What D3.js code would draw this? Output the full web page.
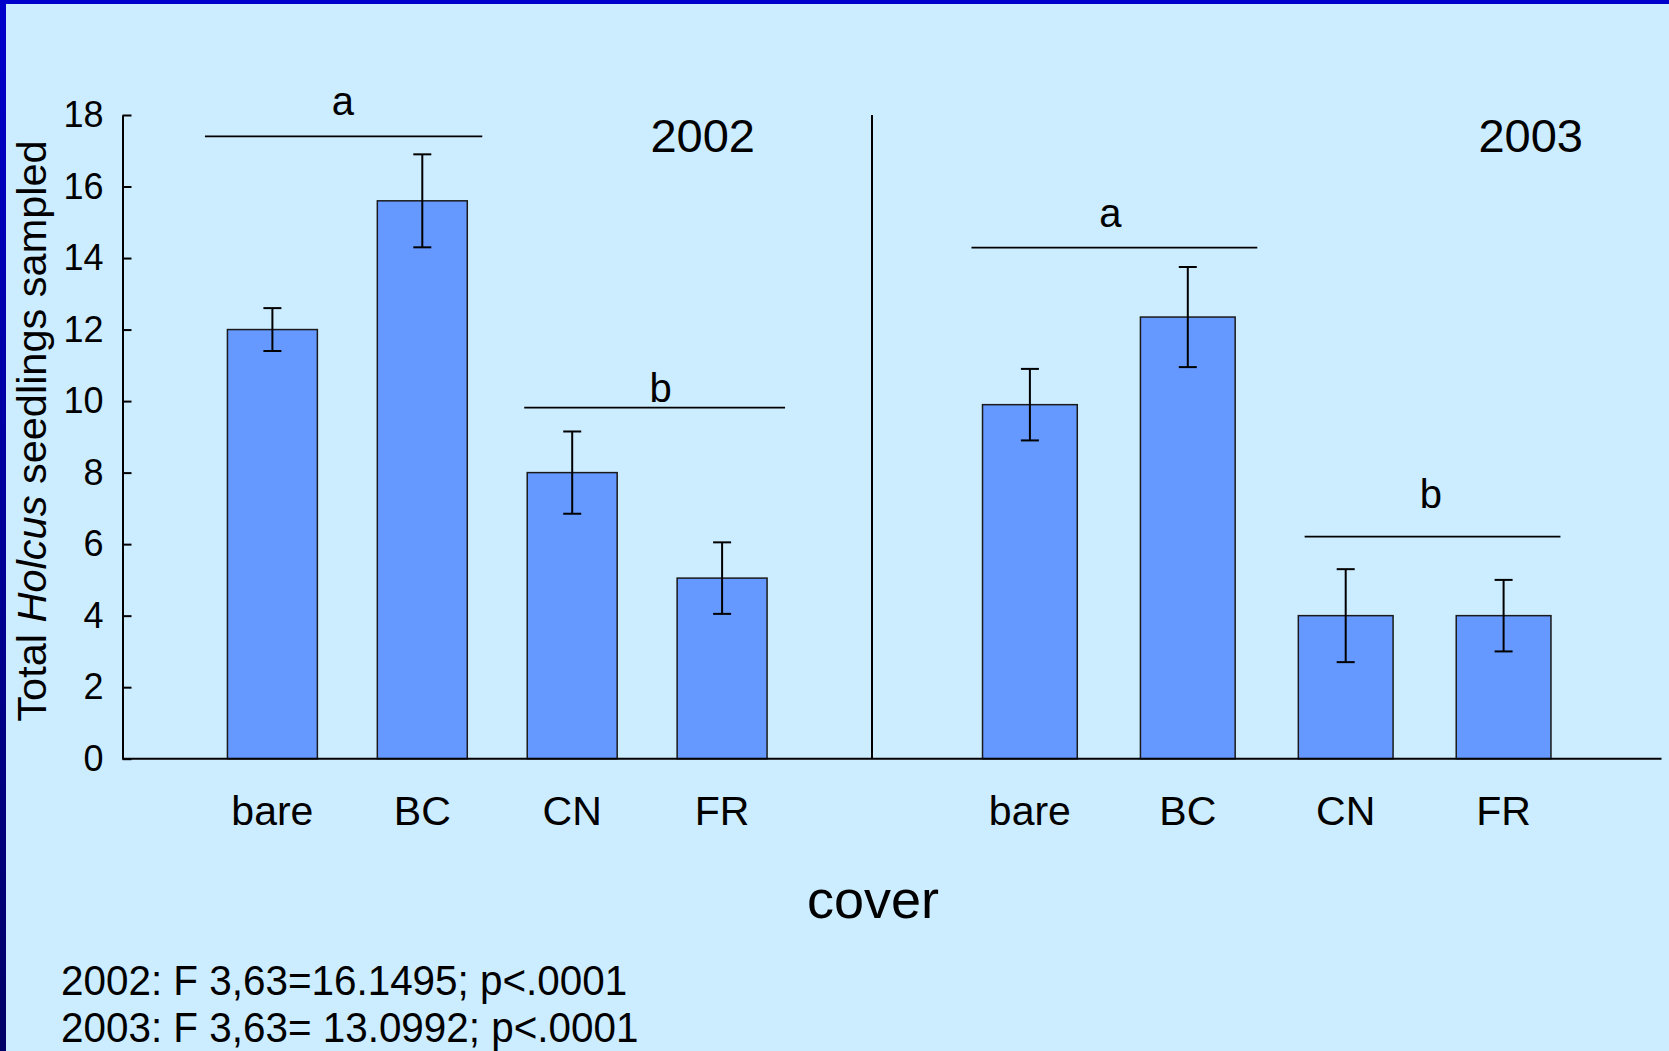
<!DOCTYPE html>
<html>
<head>
<meta charset="utf-8">
<script src="https://cdn.jsdelivr.net/npm/d3@7"></script>
<style>
  html, body { margin: 0; padding: 0; background: #ccecff; overflow: hidden; }
  svg { display: block; font-family: "Liberation Sans", Arial, sans-serif; }
</style>
</head>
<body>
<svg id="chart"></svg>
<script>
const categories = ["bare", "BC", "CN", "FR"];
const years = ["2002", "2003"];
const means2002 = [12.0, 15.6, 8.0, 5.05];
const errors2002 = [0.6, 1.3, 1.15, 1.0];
const means2003 = [9.9, 12.35, 4.0, 4.0];
const errors2003 = [1.0, 1.4, 1.3, 1.0];
const yTicks = [0, 2, 4, 6, 8, 10, 12, 14, 16, 18];
// letter groups: line span in category units, line / label height in y units
const groups2002 = [
  { label: "a", from: 0.55, to: 2.4, level: 17.4, labelAt: 1.47, labelLevel: 18.0 },
  { label: "b", from: 2.68, to: 4.42, level: 9.82, labelAt: 3.59, labelLevel: 9.98 }
];
const groups2003 = [
  { label: "a", from: 0.63, to: 2.44, level: 14.29, labelAt: 1.51, labelLevel: 14.87 },
  { label: "b", from: 2.74, to: 4.36, level: 6.21, labelAt: 3.54, labelLevel: 7.01 }
];
const stats = [
  "2002: F 3,63=16.1495; p<.0001",
  "2003: F 3,63= 13.0992; p<.0001"
];

const width = 1669;
const height = 1051;
const colors = { bg: "#ccecff", bar: "#6699ff", ink: "#000" };

const svg = d3.select("#chart").attr("width", width).attr("height", height);

// slide frame
const grad = svg.append("defs").append("linearGradient")
  .attr("id", "edge").attr("x1", 0).attr("y1", 0).attr("x2", 0).attr("y2", 1);
grad.append("stop").attr("offset", "0%").attr("stop-color", "#0000cc");
grad.append("stop").attr("offset", "100%").attr("stop-color", "#000066");
svg.append("rect").attr("width", width).attr("height", height).attr("fill", colors.bg);
svg.append("rect").attr("width", width).attr("height", 4).attr("fill", "#0000cc");
svg.append("rect").attr("width", 6).attr("height", height).attr("fill", "url(#edge)");

const y = d3.scaleLinear().domain([0, 18]).range([758.7, 115]);

const panels = [
  { year: years[0], means: means2002, errors: errors2002, groups: groups2002,
    x: d3.scaleLinear().domain([0, 5]).range([122.5, 872]), yearRight: 755 },
  { year: years[1], means: means2003, errors: errors2003, groups: groups2003,
    x: d3.scaleLinear().domain([0, 5]).range([872, 1661.5]), yearRight: 1583 }
];

panels.forEach((p, pi) => {
  const g = svg.append("g");
  const x = p.x;
  const bw = x(0.6) - x(0);
  const rows = categories.map((c, i) => ({ c, i: i + 1, v: p.means[i], e: p.errors[i] }));

  g.selectAll("rect.bar").data(rows).join("rect")
    .attr("class", "bar")
    .attr("x", d => x(d.i) - bw / 2)
    .attr("width", bw)
    .attr("y", d => y(d.v))
    .attr("height", d => y(0) - y(d.v))
    .attr("fill", colors.bar)
    .attr("stroke", "#1a1a1a")
    .attr("stroke-width", 1.5);

  const err = g.selectAll("g.err").data(rows).join("g").attr("class", "err")
    .attr("stroke", colors.ink).attr("stroke-width", 2);
  err.append("line")
    .attr("x1", d => x(d.i)).attr("x2", d => x(d.i))
    .attr("y1", d => y(d.v + d.e)).attr("y2", d => y(d.v - d.e));
  err.append("line")
    .attr("x1", d => x(d.i) - 9).attr("x2", d => x(d.i) + 9)
    .attr("y1", d => y(d.v + d.e)).attr("y2", d => y(d.v + d.e));
  err.append("line")
    .attr("x1", d => x(d.i) - 9).attr("x2", d => x(d.i) + 9)
    .attr("y1", d => y(d.v - d.e)).attr("y2", d => y(d.v - d.e));

  // axes lines
  g.append("line")
    .attr("x1", x(0)).attr("x2", x(5))
    .attr("y1", y(0)).attr("y2", y(0))
    .attr("stroke", colors.ink).attr("stroke-width", 2);
  if (pi === 1) {
    g.append("line")
      .attr("x1", x(0)).attr("x2", x(0))
      .attr("y1", y(18)).attr("y2", y(0))
      .attr("stroke", colors.ink).attr("stroke-width", 2);
  }

  g.selectAll("text.cat").data(rows).join("text")
    .attr("class", "cat")
    .attr("x", d => x(d.i))
    .attr("y", 825)
    .attr("text-anchor", "middle")
    .attr("font-size", 41)
    .text(d => d.c);

  g.append("text")
    .attr("x", p.yearRight).attr("y", 152)
    .attr("text-anchor", "end")
    .attr("font-size", 47)
    .text(p.year);

  p.groups.forEach(s => {
    g.append("line")
      .attr("x1", x(s.from)).attr("x2", x(s.to))
      .attr("y1", y(s.level)).attr("y2", y(s.level))
      .attr("stroke", colors.ink).attr("stroke-width", 1.8);
    g.append("text")
      .attr("x", x(s.labelAt)).attr("y", y(s.labelLevel))
      .attr("text-anchor", "middle")
      .attr("font-size", 40)
      .text(s.label);
  });
});

// y axis
const yAxis = d3.axisLeft(y).tickValues(yTicks).tickSizeInner(-9).tickSizeOuter(0).tickPadding(19);
const ax = svg.append("g").attr("transform", "translate(122.5,0)").call(yAxis);
ax.select(".domain").attr("stroke", colors.ink).attr("stroke-width", 2);
ax.selectAll(".tick line").attr("stroke", colors.ink).attr("stroke-width", 2);
ax.selectAll(".tick text").attr("font-size", 36).attr("fill", colors.ink)
  .attr("font-family", "'Liberation Sans', Arial, sans-serif");

const yt = svg.append("text")
  .attr("transform", "translate(46,431) rotate(-90)")
  .attr("text-anchor", "middle")
  .attr("font-size", 41.5);
yt.append("tspan").text("Total ");
yt.append("tspan").attr("font-style", "italic").text("Holcus");
yt.append("tspan").text(" seedlings sampled");

svg.append("text")
  .attr("x", 873).attr("y", 918)
  .attr("text-anchor", "middle")
  .attr("font-size", 54)
  .text("cover");

svg.selectAll("text.stat").data(stats).join("text")
  .attr("class", "stat")
  .attr("x", 61).attr("y", (d, i) => 995 + i * 47)
  .attr("font-size", 43)
  .attr("transform", "translate(61,0) scale(0.94,1) translate(-61,0)")
  .text(d => d);
</script>
</body>
</html>
